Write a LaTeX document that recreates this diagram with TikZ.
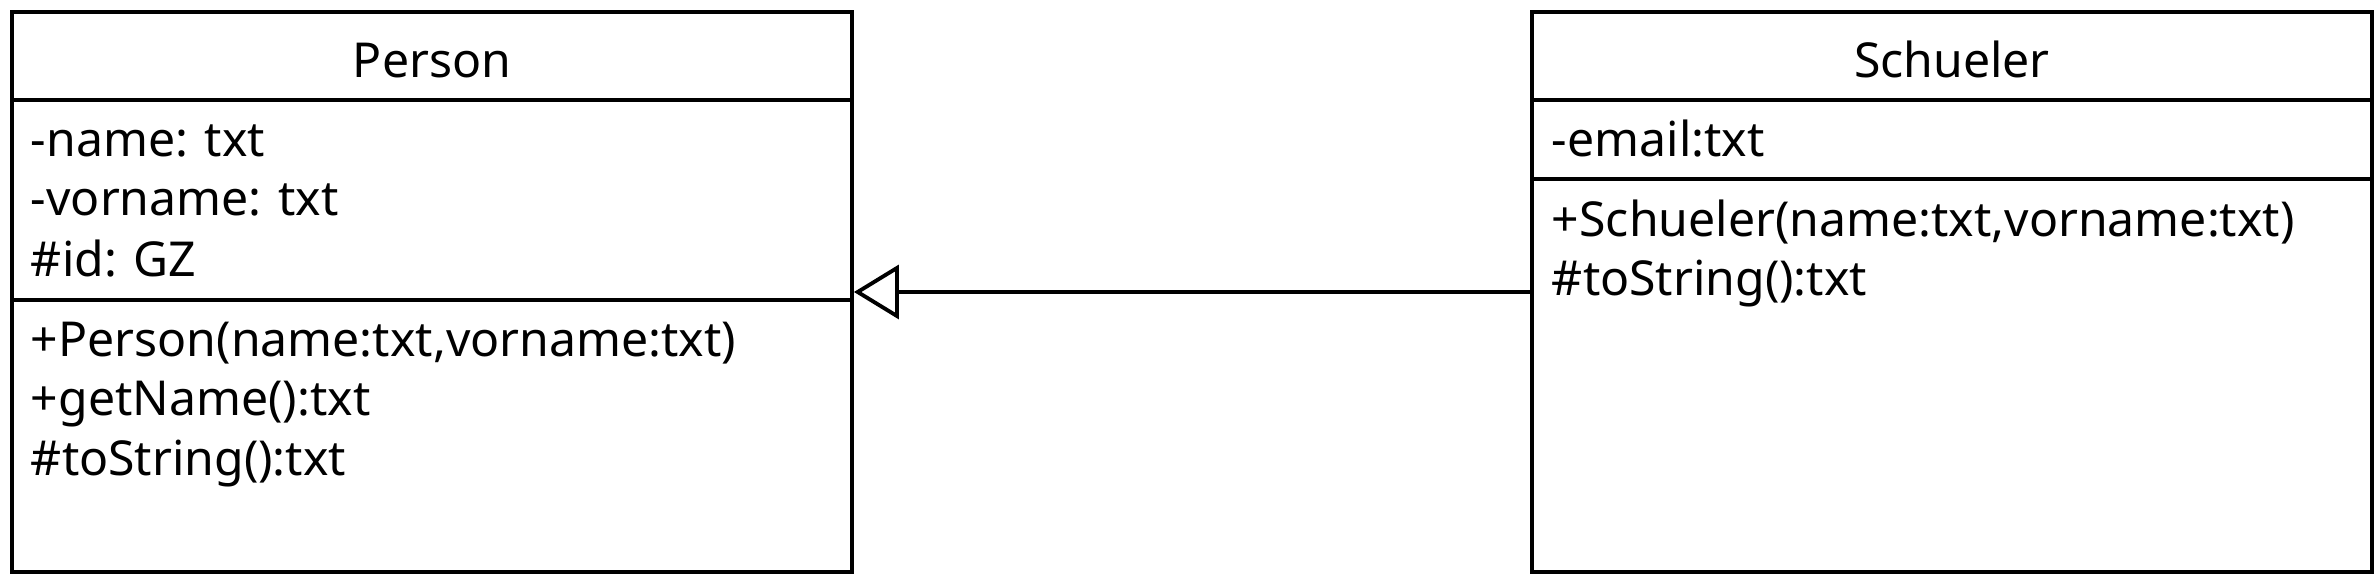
\documentclass[tikz,border=0pt]{standalone}
\usepackage{fontspec}
\setmainfont{Noto Sans}
\usetikzlibrary{arrows.meta,positioning}
\tikzset{
  classbox/.style={draw, rectangle, minimum width=8.4cm, minimum height=5.6cm, inner sep=0pt},
  title/.style={anchor=base, inner sep=0pt},
  member/.style={anchor=base west, inner sep=0pt},
  extends/.style={-{Triangle[open, length=0.45cm, width=0.54cm]}},
}
\begin{document}
\begin{tikzpicture}[line width=1.1pt, font=\fontsize{13.7}{16}\selectfont]
			\useasboundingbox (0,0) rectangle (23.8,5.8);
			%\draw[dotted] (0,0) grid (23.8,5.8);
			\node [classbox] (person) at (4.32,2.88) {};
			\node [classbox] (schueler) at (19.52,2.88) {};
			% compartments
			\draw
			(person.west |- 0,4.80) -- (person.east |- 0,4.80)
			(person.west |- 0,2.80) -- (person.east |- 0,2.80)
			(schueler.west |- 0,4.80) -- (schueler.east |- 0,4.80)
			(schueler.west |- 0,4.01) -- (schueler.east |- 0,4.01);
			% Person
			\node [title] (ptitle) at (4.32,5.02) {Person};
			\node [member] (pname) at (0.29,4.23) {-name: txt};
			\node [member] (pvorname) at (0.29,3.64) {-vorname: txt};
			\node [member] (pid) at (0.29,3.03) {\#id: GZ};
			\node [member] (pctor) at (0.29,2.23) {+Person(name:txt,vorname:txt)};
			\node [member] (pget) at (0.29,1.64) {+getName():txt};
			\node [member] (pstr) at (0.29,1.04) {\#toString():txt};
			% Schueler
			\node [title] (stitle) at (schueler.center |- 0,5.02) {Schueler};
			\node [member] (semail) at (15.50,4.23) {-email:txt};
			\node [member] (sctor) at (15.50,3.43) {+Schueler(name:txt,vorname:txt)};
			\node [member] (sstr) at (15.50,2.84) {\#toString():txt};
			\draw [extends] (schueler) -- (person);
\end{tikzpicture}
\end{document}
